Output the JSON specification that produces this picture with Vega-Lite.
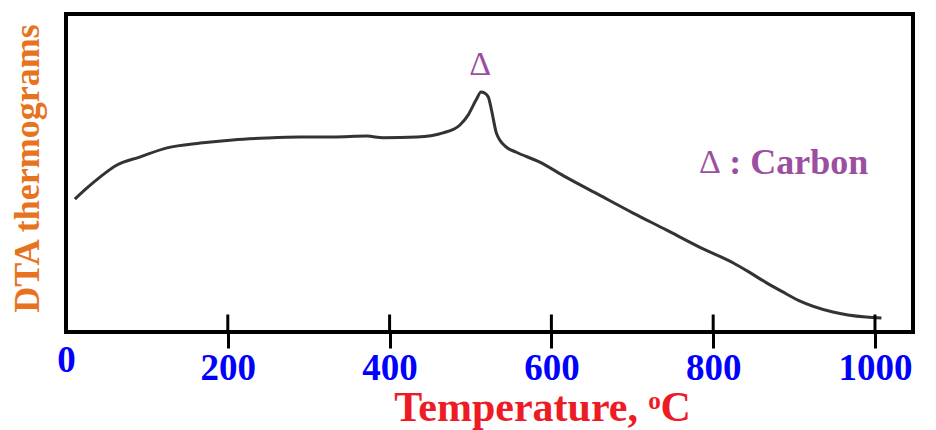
{
  "$schema": "https://vega.github.io/schema/vega-lite/v6.json",
  "width": 847,
  "height": 318,
  "autosize": "none",
  "padding": {"left": 66, "top": 14, "right": 23, "bottom": 98},
  "background": "white",
  "config": {
    "view": {"stroke": "black", "strokeWidth": 4},
    "font": "Liberation Serif"
  },
  "datasets": {
    "curve": [
      {"t": 11, "v": 41.8}, {"t": 26, "v": 45.3}, {"t": 42, "v": 48.7}, {"t": 63, "v": 52.5},
      {"t": 91, "v": 55.0}, {"t": 125, "v": 57.9}, {"t": 166, "v": 59.4}, {"t": 206, "v": 60.4},
      {"t": 248, "v": 61.0}, {"t": 289, "v": 61.3}, {"t": 330, "v": 61.3}, {"t": 372, "v": 61.6},
      {"t": 392, "v": 61.1}, {"t": 434, "v": 61.3}, {"t": 466, "v": 62.6}, {"t": 487, "v": 65.1},
      {"t": 497, "v": 68.2}, {"t": 507, "v": 73.0}, {"t": 513, "v": 75.5}, {"t": 517, "v": 75.2},
      {"t": 522, "v": 73.9}, {"t": 526, "v": 69.8}, {"t": 532, "v": 62.6}, {"t": 544, "v": 58.2},
      {"t": 556, "v": 56.6}, {"t": 585, "v": 53.5}, {"t": 618, "v": 48.7}, {"t": 659, "v": 43.1},
      {"t": 701, "v": 37.4}, {"t": 742, "v": 32.1}, {"t": 783, "v": 26.7}, {"t": 825, "v": 21.7},
      {"t": 844, "v": 18.9}, {"t": 865, "v": 15.6}, {"t": 886, "v": 12.6}, {"t": 906, "v": 9.9},
      {"t": 948, "v": 6.3}, {"t": 989, "v": 4.7}, {"t": 1008, "v": 4.4}
    ],
    "ticks": [{"t": 200}, {"t": 400}, {"t": 600}, {"t": 800}, {"t": 1000}],
    "deltas": [{"t": 512, "v": 84, "label": "Δ"}, {"t": 796, "v": 53, "label": "Δ"}],
    "legend": [{"t": 820, "v": 53, "label": ": Carbon"}]
  },
  "layer": [
    {
      "data": {"name": "curve"},
      "mark": {"type": "line", "color": "#333333", "strokeWidth": 3, "interpolate": "monotone"},
      "encoding": {
        "x": {
          "field": "t", "type": "quantitative",
          "scale": {"domain": [0, 1047], "nice": false, "zero": false},
          "axis": {
            "values": [0, 200, 400, 600, 800, 1000],
            "format": "d",
            "domain": false,
            "grid": false,
            "tickColor": "black",
            "tickWidth": 3,
            "tickSize": {"condition": {"test": "datum.value == 0", "value": 0}, "value": 16},
            "labelPadding": {"condition": {"test": "datum.value == 0", "value": 10}, "value": 2},
            "labelFontSize": 37,
            "labelFontWeight": "bold",
            "labelColor": "#0000ff",
            "labelFont": "Liberation Serif",
            "labelFlush": false,
            "labelOverlap": false,
            "title": "Temperature, ᵒC",
            "titleFont": "Liberation Serif",
            "titleFontSize": 42,
            "titleFontWeight": "bold",
            "titleColor": "#ed1c24",
            "titleX": 476,
            "titleY": 88,
            "titleAlign": "center",
            "titleBaseline": "alphabetic"
          }
        },
        "y": {
          "field": "v", "type": "quantitative",
          "scale": {"domain": [0, 100], "nice": false},
          "axis": {
            "domain": false, "ticks": false, "labels": false, "grid": false,
            "title": "DTA thermograms",
            "titleFont": "Liberation Serif",
            "titleFontSize": 36,
            "titleFontWeight": "bold",
            "titleColor": "#e8731e",
            "titleX": -28,
            "titleY": 154,
            "titleAngle": -90,
            "titleAlign": "center",
            "titleBaseline": "alphabetic"
          }
        }
      }
    },
    {
      "data": {"name": "ticks"},
      "mark": {"type": "rule", "color": "black", "strokeWidth": 3},
      "encoding": {
        "x": {"field": "t", "type": "quantitative"},
        "y": {"datum": 0},
        "y2": {"datum": 5.5}
      }
    },
    {
      "data": {"name": "deltas"},
      "mark": {"type": "text", "font": "Liberation Serif", "fontSize": 34, "fontWeight": "normal", "color": "#9c4fa0", "align": "center", "baseline": "middle"},
      "encoding": {
        "x": {"field": "t", "type": "quantitative"},
        "y": {"field": "v", "type": "quantitative"},
        "text": {"field": "label"}
      }
    },
    {
      "data": {"name": "legend"},
      "mark": {"type": "text", "font": "Liberation Serif", "fontSize": 36, "fontWeight": "bold", "color": "#9c4fa0", "align": "left", "baseline": "middle"},
      "encoding": {
        "x": {"field": "t", "type": "quantitative"},
        "y": {"field": "v", "type": "quantitative"},
        "text": {"field": "label"}
      }
    }
  ]
}
